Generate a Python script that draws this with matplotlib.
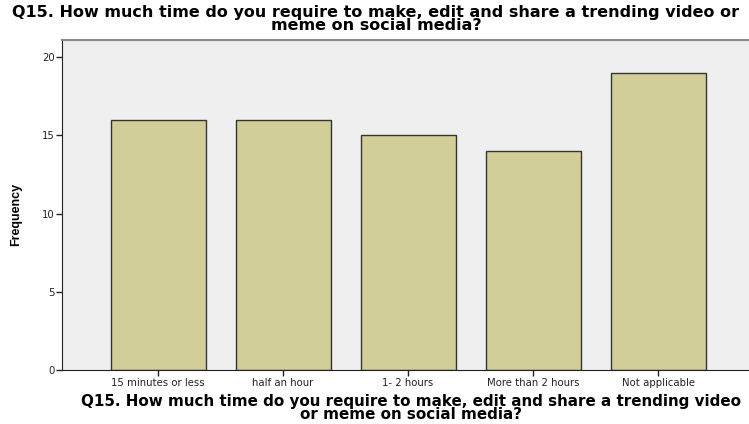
import matplotlib
matplotlib.use("Agg")
import matplotlib.pyplot as plt

categories = ["15 minutes or less", "half an hour", "1- 2 hours", "More than 2 hours", "Not applicable"]
values = [16, 16, 15, 14, 19]
yticks = [0, 5, 10, 15, 20]
title = "Q15. How much time do you require to make, edit and share a trending video or\nmeme on social media?"
xlabel = "Q15. How much time do you require to make, edit and share a trending video\nor meme on social media?"

plt.rcParams['font.family'] = ['DejaVu Sans']

fig = plt.figure(figsize=(7.49, 4.24), dpi=100)
ax = fig.add_axes([62/749, 1-370/424, 1-62/749, (370-40)/424])
ax.set_facecolor('#efefef')
x = list(range(len(categories)))
ax.bar(x, values, width=0.76, color='#d2ce98', edgecolor='#333333', linewidth=1.0, zorder=2)
ax.set_xlim(-0.768, 4.728)
ax.set_ylim(0, 21.1)
ax.set_yticks(yticks)
ax.set_xticks(x)
ax.set_xticklabels(categories, fontsize=7.3)
ax.tick_params(axis='y', labelsize=7.3, length=4, width=1, pad=1, colors='#222222')
ax.tick_params(axis='x', length=4, width=1, pad=2, colors='#222222')
ax.spines['right'].set_visible(False)
ax.spines['top'].set_color('#888888')
ax.spines['top'].set_linewidth(1.5)
ax.spines['left'].set_color('#222222')
ax.spines['bottom'].set_color('#222222')
fig.text(16/749, 1-214/424, "Frequency", rotation=90, ha='center', va='center',
         fontsize=9, fontweight='bold', family=['Liberation Sans Narrow', 'Liberation Sans', 'DejaVu Sans'])
ax.set_xlabel(xlabel, fontsize=10.9, fontweight='bold', linespacing=0.85, labelpad=3)
ax.xaxis.set_label_coords((411-62)/687, -0.073)
ax.xaxis.label.set_va('top')
fig.text(376/749, 1 - 5/424, title, ha='center', va='top', fontsize=11.5, fontweight='bold', linespacing=0.85)
fig.savefig("out.png", dpi=100)
